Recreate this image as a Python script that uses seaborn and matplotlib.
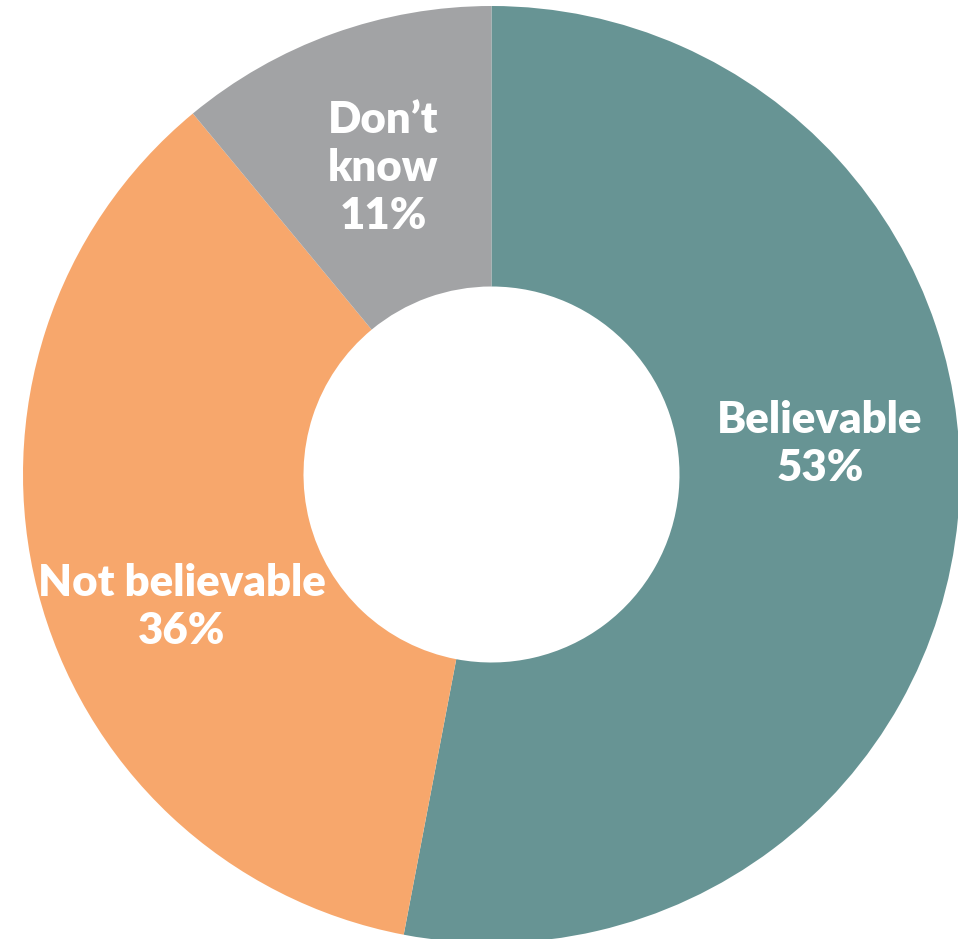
import matplotlib
matplotlib.use("Agg")
import matplotlib.pyplot as plt
import seaborn as sns

# Survey responses
categories = ["Believable", "Not believable", "Don\u2019t know"]
shares = [53, 36, 11]
colors = ["#679494", "#F7A76C", "#A2A3A5"]
label_lines = [["Believable"], ["Not believable"], ["Don\u2019t", "know"]]

sns.set_theme(style="white")
plt.rcParams["font.family"] = ["Lato", "DejaVu Sans"]

W, H = 958, 939
fig = plt.figure(figsize=(W / 100, H / 100), dpi=100)
ax = fig.add_axes([0, 0, 1, 1])

# ring geometry in pixels
cx, cy, r_out, r_in = 491.5, 474.5, 468.5, 188.0

palette = sns.color_palette(colors)
ax.pie(shares, colors=palette, startangle=90, counterclock=False,
       radius=1.0, wedgeprops=dict(width=1 - r_in / r_out, linewidth=0))

ax.set_xlim(-cx / r_out, (W - cx) / r_out)
ax.set_ylim(-(H - cy) / r_out, cy / r_out)
ax.set_aspect("auto")
ax.axis("off")

# label anchor points (pixel coords of first line centre)
anchors = [(820, 420), (182, 583), (383, 120)]
line_gap = 48
for lines, val, (px, py) in zip(label_lines, shares, anchors):
    rows = lines + [f"{val}%"]
    for i, t in enumerate(rows):
        x = (px - cx) / r_out
        y = (cy - (py + i * line_gap)) / r_out
        ax.text(x, y, t, ha="center", va="center", color="white",
                fontsize=31.5, fontweight="heavy")

fig.savefig("out.png", dpi=100, facecolor="white")
